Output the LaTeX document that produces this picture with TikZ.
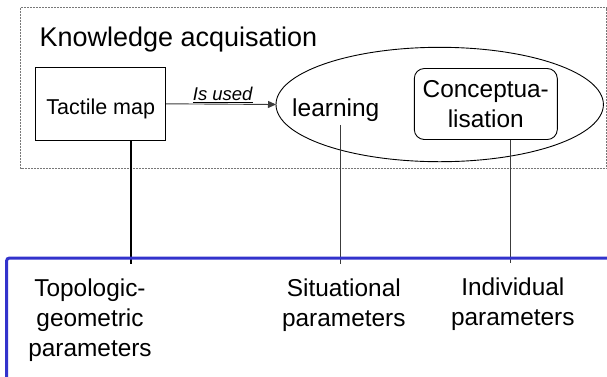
\documentclass[tikz,border=0pt]{standalone}
\usepackage{fontspec}
\setmainfont{Liberation Sans}
\usetikzlibrary{shapes.geometric,arrows.meta}
\definecolor{frameblue}{RGB}{51,51,204}
\definecolor{linegray}{RGB}{60,60,60}
\definecolor{dotgray}{RGB}{120,120,120}
\begin{document}
\begin{tikzpicture}[x=1pt,y=-1pt,
  boxline/.style={draw=black,line width=1pt},
  thinlink/.style={draw=linegray,line width=0.9pt},
  param/.style={font=\fontsize{24.4}{30}\selectfont,align=center,inner sep=0pt,anchor=base}]
\useasboundingbox (0,0) rectangle (607,376);

% dotted frame of the knowledge acquisition area
\draw[dotgray,line width=0.8pt,dash pattern=on 0.8pt off 0.7pt] (20.5,7.5) rectangle (606,168);

\node[font=\fontsize{27}{32}\selectfont,anchor=base west,inner sep=0pt] (title) at (39.3,46.7) {Knowledge acquisation};

\node[boxline,minimum width=130,minimum height=73,inner sep=0pt,
      text height=22pt,text depth=1.6pt,
      font=\fontsize{21.5}{26}\selectfont] (tactile) at (100.7,103.8) {Tactile map};

\node[draw=black,line width=0.9pt,ellipse,minimum width=327.4,minimum height=114.4,
      inner sep=0pt,outer sep=0pt] (scope) at (439.7,104.5) {};

\node[font=\fontsize{24.5}{29}\selectfont,anchor=base,inner xsep=0pt,inner ysep=3pt] (learn) at (335.8,116.7) {learning};

\node[draw=black,line width=0.9pt,rounded corners=10,minimum width=143,minimum height=71,
      align=center,inner sep=0pt,font=\fontsize{24.4}{29.5}\selectfont] (concept) at (485.8,104) {Conceptua-\\lisation};

% usage arrow
\draw[linegray,line width=0.9pt,-{Triangle[length=8pt,width=7pt]}] (tactile.east) -- (scope.west);
\node[font=\fontsize{18.5}{22}\selectfont\itshape,anchor=base,inner sep=0pt] (used) at (222.7,100.7) {\underline{Is used}};

% parameter labels (anchored at the baseline of their last line)
\node[param] (topo) at (90,356.5) {Topologic-\\geometric\\parameters};
\node[param] (situ) at (343.8,326.5) {Situational\\parameters};
\node[param] (indi) at (512.8,325) {Individual\\parameters};

% links down to the parameter bar
\coordinate (tend) at (130.7,264);
\coordinate (send) at (340.7,264);
\coordinate (iend) at (510,263);
\draw[black,line width=2pt] (tend |- tactile.south) -- (tend);
\draw[thinlink] (send |- learn.south) -- (send);
\draw[thinlink] (iend |- concept.south) -- (iend);

% parameter bar
\draw[frameblue,line width=3pt,rounded corners=3] (6.5,385) -- (6.5,258) -- (615,258);
\end{tikzpicture}
\end{document}
